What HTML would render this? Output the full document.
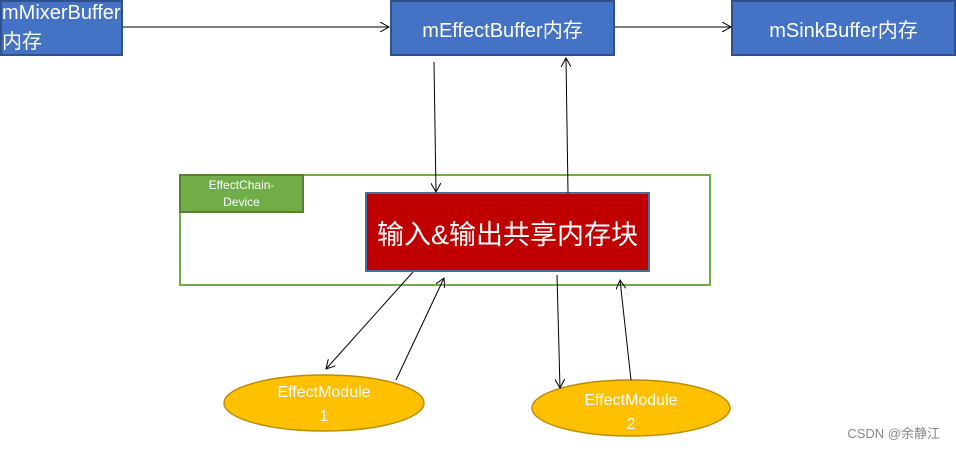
<!DOCTYPE html>
<html><head><meta charset="utf-8"><style>
body{margin:0;background:#fff;width:956px;height:450px;overflow:hidden;position:relative;font-family:"Liberation Sans","Noto Sans CJK SC",sans-serif}
.b{position:absolute;background:#4472c4;border:2px solid #2f528f;box-sizing:border-box;color:#fff;font-size:20px;display:flex;align-items:center;justify-content:center}
</style></head><body>
<div class="b" style="left:0;top:0;width:123px;height:56px">mMixerBuffer内存</div>
<div class="b" style="left:390;top:0;left:390px;width:225px;height:56px">mEffectBuffer内存</div>
<div class="b" style="left:731px;top:0;width:225px;height:56px">mSinkBuffer内存</div>
<div style="position:absolute;left:179px;top:174px;width:532px;height:112px;border:2px solid #70ad47;box-sizing:border-box"></div>
<div style="position:absolute;left:179px;top:174px;width:125px;height:39px;background:#70ad47;border:2px solid #548235;box-sizing:border-box;color:#fff;font-size:12px;text-align:center;line-height:17px;padding-top:1px">EffectChain-<br>Device</div>
<div style="position:absolute;left:365px;top:192px;width:285px;height:80px;background:#c00000;border:2px solid #41719c;box-sizing:border-box;color:#fff;font-size:27px;display:flex;align-items:center;justify-content:center">输入&amp;输出共享内存块</div>
<svg width="956" height="450" style="position:absolute;left:0;top:0">
<defs><marker id="a" markerWidth="10" markerHeight="10" refX="9" refY="5" orient="auto" markerUnits="userSpaceOnUse"><path d="M0,0 L9,5 L0,10" fill="none" stroke="#000" stroke-width="1"/></marker></defs>
<ellipse cx="324" cy="403" rx="100" ry="28" fill="#ffc000" stroke="#bc8c00" stroke-width="1.5"/>
<ellipse cx="631" cy="408" rx="99" ry="28" fill="#ffc000" stroke="#bc8c00" stroke-width="1.5"/>
<text x="324" y="397" font-size="16" fill="#fff" text-anchor="middle" font-family="Liberation Sans">EffectModule</text>
<text x="324" y="421" font-size="16" fill="#fff" text-anchor="middle" font-family="Liberation Sans">1</text>
<text x="631" y="405" font-size="16" fill="#fff" text-anchor="middle" font-family="Liberation Sans">EffectModule</text>
<text x="631" y="429" font-size="16" fill="#fff" text-anchor="middle" font-family="Liberation Sans">2</text>
<g stroke="#000" stroke-width="1" fill="none">
<line x1="123" y1="27" x2="389" y2="27" marker-end="url(#a)"/>
<line x1="615" y1="27" x2="731" y2="27" marker-end="url(#a)"/>
<line x1="434" y1="62" x2="436" y2="192" marker-end="url(#a)"/>
<line x1="568" y1="193" x2="566" y2="58" marker-end="url(#a)"/>
<line x1="413" y1="272" x2="326" y2="369" marker-end="url(#a)"/>
<line x1="396" y1="380" x2="444" y2="278" marker-end="url(#a)"/>
<line x1="557" y1="275" x2="560" y2="388" marker-end="url(#a)"/>
<line x1="631" y1="380" x2="620" y2="280" marker-end="url(#a)"/>
</g>
<text x="940" y="438" font-size="13" fill="#888" text-anchor="end" font-family="Liberation Sans, Noto Sans CJK SC, sans-serif">CSDN @余静江</text>
</svg>
</body></html>
